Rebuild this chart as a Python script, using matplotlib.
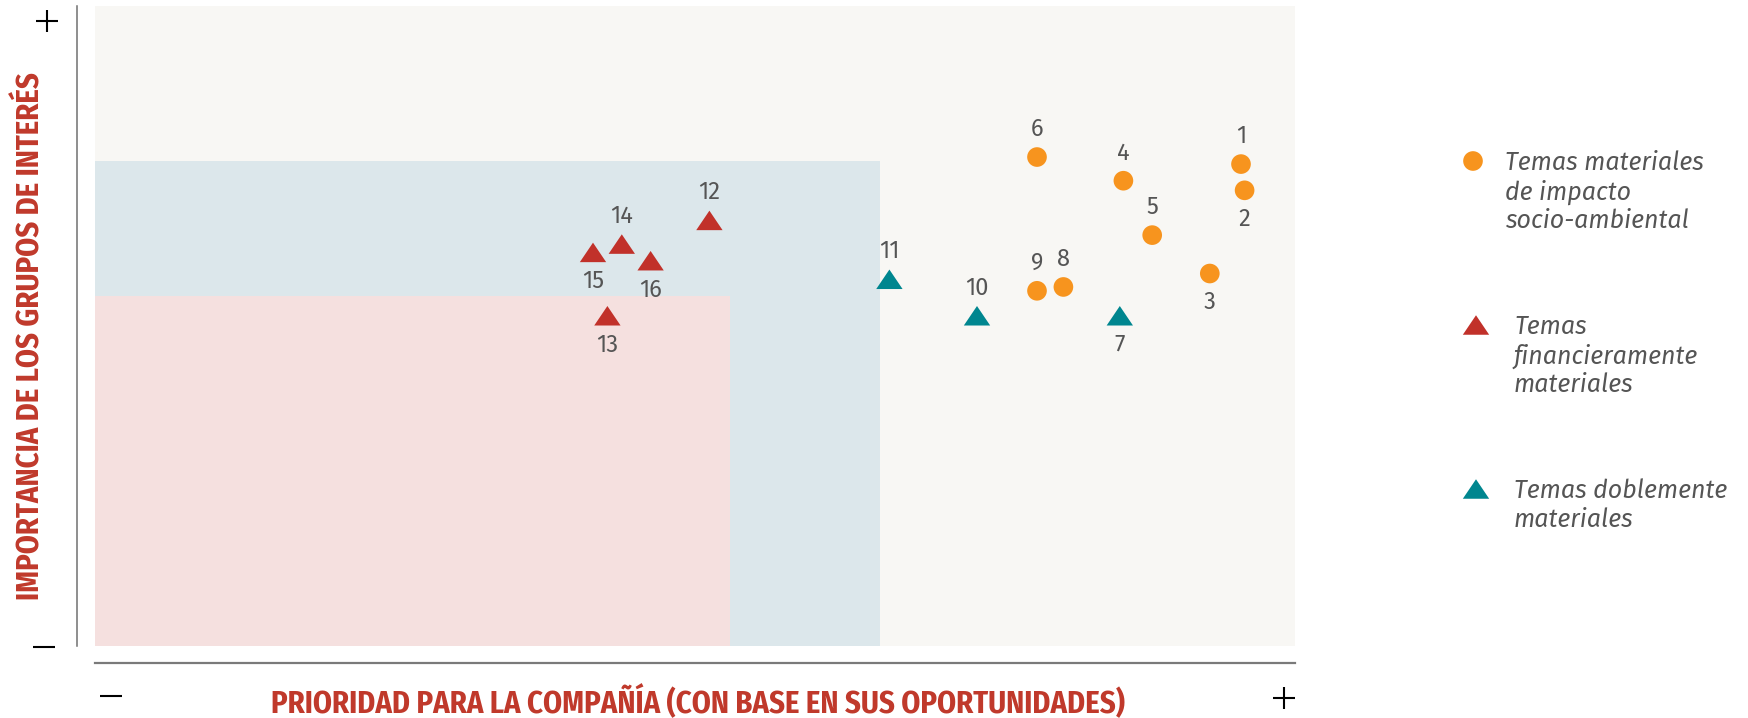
import matplotlib
matplotlib.use('Agg')
from matplotlib import pyplot as plt
from matplotlib.path import Path
import matplotlib.patches as mpatches

# materiality topics: number, x (company priority), y (stakeholder importance), group
topics = [1, 2, 3, 4, 5, 6, 7, 8, 9, 10, 11, 12, 13, 14, 15, 16]
prioridad = [95.5, 95.8, 92.9, 85.7, 88.1, 78.5, 85.4, 80.7, 78.5, 73.5, 66.2, 51.2, 42.7, 43.9, 41.5, 46.3]
importancia = [75.3, 71.2, 58.2, 72.7, 64.2, 76.4, 51.6, 56.1, 55.5, 51.6, 57.3, 66.5, 51.6, 62.8, 61.5, 60.2]
grupo = ['impacto', 'impacto', 'impacto', 'impacto', 'impacto', 'impacto', 'doble',
         'impacto', 'impacto', 'doble', 'doble', 'financiero', 'financiero',
         'financiero', 'financiero', 'financiero']
label_below = [2, 3, 7, 13, 15, 16]

# zone limits
zona_doble = (65.4, 75.8)
zona_fin = (52.9, 54.7)

colors = {'impacto': '#F7941E', 'financiero': '#C1312A', 'doble': '#00868F'}
legend_text = {
    'impacto': ['Temas materiales', 'de impacto', 'socio-ambiental'],
    'financiero': ['Temas', 'financieramente', 'materiales'],
    'doble': ['Temas doblemente', 'materiales'],
}

W, H = 1748, 718
body = ['Fira Sans', 'Open Sans', 'DejaVu Sans']
cond = ['Fira Sans Condensed', 'Roboto Condensed', 'DejaVu Sans']

# flat triangle marker
tri = Path([(0, 0.74), (-1, -0.74), (1, -0.74), (0, 0.74)],
           [Path.MOVETO, Path.LINETO, Path.LINETO, Path.CLOSEPOLY])

fig = plt.figure(figsize=(W / 100, H / 100), dpi=100)
ax = fig.add_axes([95 / W, 1 - 646 / H, 1200 / W, 640 / H])
ax.set_xlim(0, 100)
ax.set_ylim(0, 100)
ax.set_facecolor('#F8F7F4')

ax.add_patch(mpatches.Rectangle((0, 0), zona_doble[0], zona_doble[1],
                                facecolor='#DCE7EB', edgecolor='none', zorder=0))
ax.add_patch(mpatches.Rectangle((0, 0), zona_fin[0], zona_fin[1],
                                facecolor='#F5E0DF', edgecolor='none', zorder=0))

for n, x, y, g in zip(topics, prioridad, importancia, grupo):
    if g == 'impacto':
        ax.scatter(x, y, s=200, marker='o', color=colors[g], edgecolors='none', zorder=3)
    else:
        ax.scatter(x, y, s=360, marker=tri, color=colors[g], edgecolors='none', zorder=3)
    dy = -21 if n in label_below else 20
    ax.annotate(str(n), (x, y), xytext=(0, dy), textcoords='offset points',
                ha='center', va='center', fontsize=17, color='#555555', family=body)

ax.set_xticks([])
ax.set_yticks([])
for s in ['top', 'right']:
    ax.spines[s].set_visible(False)
ax.spines['left'].set_position(('outward', 13))
ax.spines['left'].set_color('#707070')
ax.spines['left'].set_linewidth(1.1)
ax.spines['bottom'].set_position(('outward', 12))
ax.spines['bottom'].set_color('#7a7a7a')
ax.spines['bottom'].set_linewidth(1.6)

red = '#C0392B'
fig.text(31 / W, 1 - 336 / H, 'IMPORTANCIA DE LOS GRUPOS DE INTERÉS', rotation=90,
         ha='center', va='center', fontsize=22, fontweight='bold', color=red, family=cond)
fig.text(698 / W, 1 - 702 / H, 'PRIORIDAD PARA LA COMPAÑÍA (CON BASE EN SUS OPORTUNIDADES)',
         ha='center', va='center', fontsize=22, fontweight='bold', color=red, family=cond)

# overlay in pixel coords for signs and legend
ov = fig.add_axes([0, 0, 1, 1])
ov.set_xlim(0, W)
ov.set_ylim(H, 0)
ov.axis('off')
ov.patch.set_alpha(0)
ov.plot([47, 1284], [21, 698], '+', color='black', markersize=16, mew=1.5)
ov.plot([44, 111], [647, 696], '_', color='black', markersize=16, mew=1.5)

leg_y = {'impacto': 161, 'financiero': 325, 'doble': 489}
for g in ['impacto', 'financiero', 'doble']:
    if g == 'impacto':
        ov.scatter(1473, leg_y[g], s=200, marker='o', color=colors[g], edgecolors='none')
        tx = 1505
    else:
        ov.scatter(1476, leg_y[g], s=360, marker=tri, color=colors[g], edgecolors='none')
        tx = 1514
    for i, line in enumerate(legend_text[g]):
        ov.text(tx, leg_y[g] + 2 + i * 29, line, ha='left', va='center', fontsize=18,
                style='italic', color='#555555', family=body)

plt.savefig('out.png', dpi=100)
